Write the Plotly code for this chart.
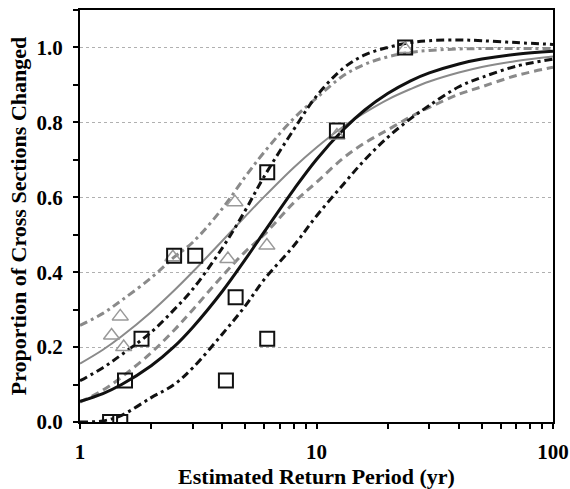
import plotly.graph_objects as go

# Curve sample positions (return period, yr)
curve_x = [1, 1.25, 1.5, 2, 2.5, 3, 4, 5, 6, 8, 10, 13, 16, 20, 25, 30, 40, 50, 70, 100]

# Black fitted curve and its bounds
black_fit = [0.055, 0.076, 0.100, 0.150, 0.201, 0.253, 0.349, 0.434, 0.507, 0.620,
             0.701, 0.781, 0.833, 0.877, 0.911, 0.932, 0.956, 0.969, 0.982, 0.990]
black_upper = [0.11, 0.145, 0.18, 0.24, 0.30, 0.355, 0.465, 0.565, 0.655, 0.78,
               0.87, 0.945, 0.98, 1.0, 1.013, 1.018, 1.02, 1.018, 1.013, 1.008]
black_lower = [0.0, 0.003, 0.018, 0.065, 0.10, 0.145, 0.235, 0.31, 0.38, 0.47,
               0.55, 0.635, 0.70, 0.76, 0.81, 0.845, 0.895, 0.92, 0.95, 0.969]

# Grey fitted curve and its bounds
grey_fit = [0.156, 0.193, 0.229, 0.294, 0.351, 0.401, 0.484, 0.549, 0.601, 0.679,
            0.733, 0.789, 0.826, 0.861, 0.889, 0.909, 0.933, 0.948, 0.964, 0.976]
grey_upper = [0.258, 0.29, 0.325, 0.385, 0.44, 0.48, 0.57, 0.655, 0.72, 0.81,
              0.865, 0.925, 0.955, 0.975, 0.987, 0.992, 0.996, 0.997, 0.997, 0.997]
grey_lower = [0.053, 0.085, 0.12, 0.185, 0.245, 0.30, 0.39, 0.455, 0.50, 0.585,
              0.64, 0.705, 0.745, 0.78, 0.815, 0.84, 0.875, 0.895, 0.925, 0.947]

# Observed proportions
square_x = [1.34, 1.48, 1.55, 1.82, 2.5, 3.07, 4.14, 4.55, 6.19, 6.19, 12.2, 23.7]
square_y = [0.0, 0.0, 0.111, 0.222, 0.444, 0.444, 0.111, 0.333, 0.222, 0.667, 0.778, 1.0]
tri_x = [1.36, 1.48, 1.53, 2.47, 4.22, 4.52, 6.17, 12.2, 23.7]
tri_y = [0.231, 0.282, 0.2, 0.44, 0.435, 0.587, 0.471, 0.765, 0.996]

x_ticks = [1, 2, 3, 4, 5, 6, 7, 8, 9, 10, 20, 30, 40, 50, 60, 70, 80, 90, 100]
x_labels = ["1", "", "", "", "", "", "", "", "", "10", "", "", "", "", "", "", "", "", "100"]
y_ticks = [0.0, 0.2, 0.4, 0.6, 0.8, 1.0]
y_labels = ["0.0", "0.2", "0.4", "0.6", "0.8", "1.0"]

BLACK = "#111111"
GREY = "#8a8a8a"

fig = go.Figure()
fig.add_trace(go.Scatter(x=curve_x, y=grey_upper, mode="lines", line=dict(color=GREY, width=3, dash="8px,4px,3px,4px", shape="spline")))
fig.add_trace(go.Scatter(x=curve_x, y=grey_lower, mode="lines", line=dict(color=GREY, width=3, dash="8px,5px", shape="spline")))
fig.add_trace(go.Scatter(x=curve_x, y=grey_fit, mode="lines", line=dict(color=GREY, width=2, shape="spline")))
fig.add_trace(go.Scatter(x=curve_x, y=black_upper, mode="lines", line=dict(color=BLACK, width=3, dash="8px,4px,3px,4px", shape="spline")))
fig.add_trace(go.Scatter(x=curve_x, y=black_lower, mode="lines", line=dict(color=BLACK, width=3, dash="8px,4px,3px,4px", shape="spline")))
fig.add_trace(go.Scatter(x=curve_x, y=black_fit, mode="lines", line=dict(color=BLACK, width=3, shape="spline")))
fig.add_trace(go.Scatter(x=tri_x, y=tri_y, mode="markers",
                         marker=dict(symbol="triangle-up-open", size=14, color="#999999", line=dict(width=1.5))))
fig.add_trace(go.Scatter(x=square_x, y=square_y, mode="markers",
                         marker=dict(symbol="square-open", size=14, color=BLACK, line=dict(width=2))))

font_family = "Liberation Serif, Times New Roman, serif"
fig.update_layout(
    width=570, height=489,
    margin=dict(l=80, r=17, t=10, b=67, autoexpand=False),
    paper_bgcolor="white", plot_bgcolor="white",
    showlegend=False,
    font=dict(family=font_family, size=21, color="black"),
    xaxis=dict(
        type="log", range=[0, 2], automargin=False,
        tickvals=x_ticks, ticktext=x_labels,
        ticks="outside", ticklen=5, tickwidth=1.5, tickcolor="black",
        ticklabelstandoff=5,
        showline=True, linecolor="black", linewidth=2, mirror=True,
        showgrid=False, zeroline=False,
        tickfont=dict(family=font_family, size=21, color="black", weight="bold"),
        title=dict(text="<b>Estimated Return Period (yr)</b>", font=dict(family=font_family, size=22), standoff=8),
    ),
    yaxis=dict(
        range=[0, 1.1], automargin=False,
        tickvals=y_ticks, ticktext=y_labels,
        ticks="outside", ticklen=5, tickwidth=1.5, tickcolor="black",
        ticklabelstandoff=6,
        minor=dict(dtick=0.1, tick0=0, ticks="outside", ticklen=5, tickwidth=1.5, tickcolor="black", showgrid=False),
        showline=True, linecolor="black", linewidth=2, mirror=True,
        showgrid=True, gridcolor="#b0b0b0", gridwidth=1, griddash="dot",
        zeroline=False,
        tickfont=dict(family=font_family, size=21, color="black", weight="bold"),
        title=dict(text="<b>Proportion of Cross Sections Changed</b>", font=dict(family=font_family, size=22), standoff=4),
    ),
)

fig.write_html("out.html")
